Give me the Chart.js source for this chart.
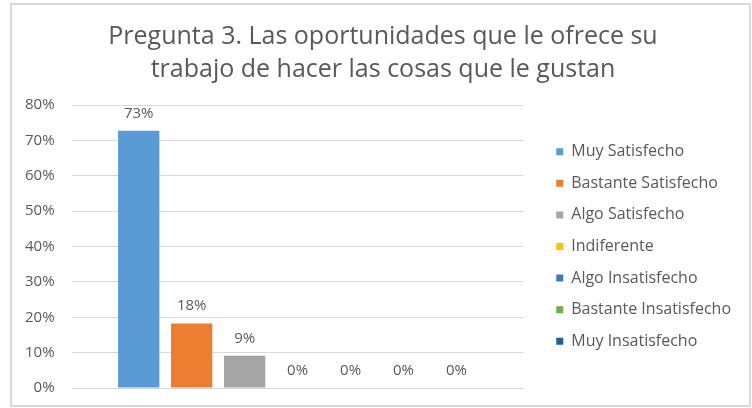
<!DOCTYPE html>
<html>
<head>
<meta charset="utf-8">
<script src="https://cdn.jsdelivr.net/npm/chart.js@4"></script>
<style>
  html, body { margin: 0; padding: 0; background: #fff; }
  #box {
    position: absolute; left: 10px; top: 3px;
    width: 741px; height: 404px;
    box-sizing: border-box;
    border: 2px solid #d9d9d9;
  }
  #chart { display: block; }
</style>
</head>
<body>
<div id="box"><canvas id="chart" width="737" height="400"></canvas></div>
<script>
const titleLines = ['Pregunta 3. Las oportunidades que le ofrece su', 'trabajo de hacer las cosas que le gustan'];
const seriesNames = ['Muy Satisfecho', 'Bastante Satisfecho', 'Algo Satisfecho', 'Indiferente',
  'Algo Insatisfecho', 'Bastante Insatisfecho', 'Muy Insatisfecho'];
const seriesValues = [72.7, 18.2, 9.1, 0, 0, 0, 0];
const seriesColors = ['#5b9bd5', '#ed7d31', '#a5a5a5', '#ffc000', '#4472c4', '#70ad47', '#255e91'];
const yMax = 80;
const yStep = 10;

Chart.defaults.font.family = '"Open Sans", Lato, sans-serif';
Chart.defaults.color = '#595959';

// draw the value above each bar
const valueLabels = {
  id: 'valueLabels',
  afterDatasetsDraw(chart) {
    const ctx = chart.ctx;
    ctx.save();
    ctx.font = '15px "Open Sans", Lato, sans-serif';
    ctx.fillStyle = '#595959';
    ctx.textAlign = 'center';
    ctx.textBaseline = 'bottom';
    chart.data.datasets.forEach((ds, i) => {
      const bar = chart.getDatasetMeta(i).data[0];
      ctx.fillText(Math.round(ds.data[0]) + '%', bar.x, bar.y - 10);
    });
    ctx.restore();
  }
};

new Chart(document.getElementById('chart'), {
  type: 'bar',
  data: {
    labels: [''],
    datasets: seriesNames.map((name, i) => ({
      label: name,
      data: [seriesValues[i]],
      backgroundColor: seriesColors[i],
      categoryPercentage: 0.82,
      barPercentage: 0.78
    }))
  },
  options: {
    responsive: false,
    animation: false,
    layout: { padding: { left: 13, right: 8, top: 0, bottom: 17 } },
    plugins: {
      title: {
        display: true,
        text: titleLines,
        color: '#595959',
        font: { size: 25, weight: 'normal', lineHeight: 1.3 },
        padding: { top: 16, bottom: 19 }
      },
      legend: {
        position: 'right',
        fullSize: false,
        maxWidth: 240,
        labels: {
          boxWidth: 7,
          boxHeight: 7,
          padding: 15.6,
          color: '#595959',
          font: { size: 16 }
        }
      },
      tooltip: { enabled: false }
    },
    scales: {
      x: { display: false },
      y: {
        min: 0,
        max: yMax,
        ticks: {
          stepSize: yStep,
          padding: 0,
          color: '#595959',
          font: { size: 15 },
          callback: v => v + '%'
        },
        grid: { color: '#d9d9d9', lineWidth: 1, drawTicks: true, tickLength: 17, tickColor: 'rgba(0,0,0,0)' },
        border: { display: false }
      },
      gap: {
        position: 'right',
        display: true,
        ticks: { display: false },
        grid: { display: false },
        border: { display: false },
        afterFit(scale) { scale.width = 17; }
      }
    }
  },
  plugins: [valueLabels]
});
</script>
</body>
</html>
